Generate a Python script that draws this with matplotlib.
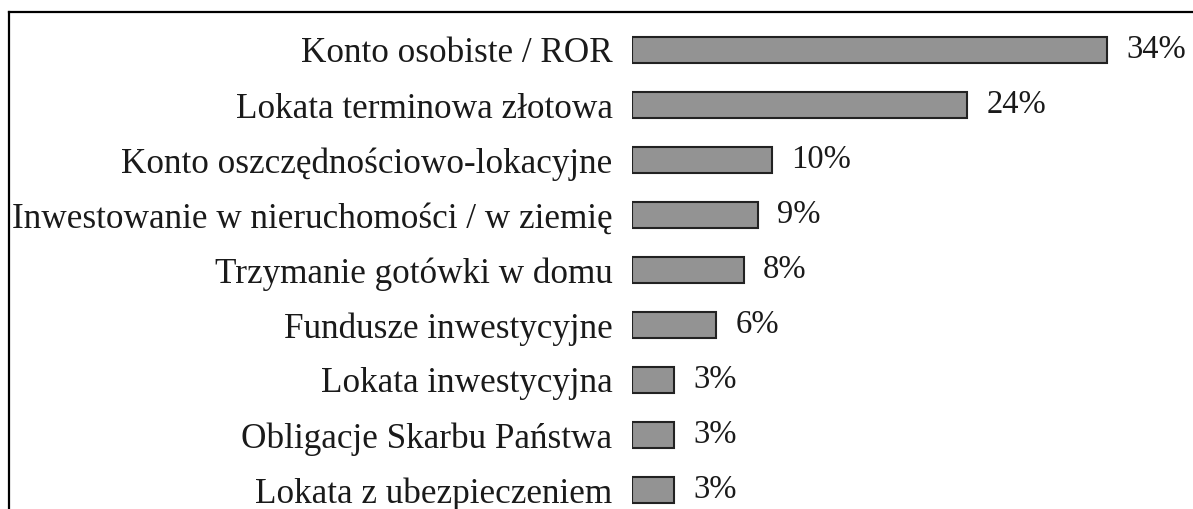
import matplotlib
matplotlib.use("Agg")
import matplotlib.pyplot as plt
from matplotlib.lines import Line2D

categories = [
    "Konto osobiste / ROR",
    "Lokata terminowa złotowa",
    "Konto oszczędnościowo-lokacyjne",
    "Inwestowanie w nieruchomości / w ziemię",
    "Trzymanie gotówki w domu",
    "Fundusze inwestycyjne",
    "Lokata inwestycyjna",
    "Obligacje Skarbu Państwa",
    "Lokata z ubezpieczeniem",
]
values = [34, 24, 10, 9, 8, 6, 3, 3, 3]
value_labels = ["34%", "24%", "10%", "9%", "8%", "6%", "3%", "3%", "3%"]

W, H = 1193, 509
fig = plt.figure(figsize=(W / 100, H / 100), dpi=100)
plt.rcParams['font.family'] = ['Liberation Serif', 'DejaVu Serif']

ax_left = 632 / W
ax = fig.add_axes([ax_left, 0, 1 - ax_left, (H - 12) / H])
ypos = list(range(len(categories)))
ax.barh(ypos, values, height=0.47, color="#939393", edgecolor="#222222", linewidth=1.5)
ax.set_xlim(0, (W - 632) / 13.97)
ax.set_ylim((H - 50) / 55, (12 - 50) / 55)
ax.set_yticks(ypos)
ax.set_yticklabels(categories, fontsize=25.3, color="#1a1a1a")
ax.tick_params(axis='y', length=0, pad=14)
ax.set_xticks([])
for s in ax.spines.values():
    s.set_visible(False)
for y, v, lab in zip(ypos, values, value_labels):
    ax.annotate(lab, (v, y), xytext=(14, 0), textcoords="offset points",
                va="center", ha="left", fontsize=23.5, color="#1a1a1a")

fig.add_artist(Line2D([9 / W, 1], [1 - 12 / H, 1 - 12 / H], color="black", lw=1.6, transform=fig.transFigure))
fig.add_artist(Line2D([9 / W, 9 / W], [0, 1 - 12 / H], color="black", lw=1.6, transform=fig.transFigure))

fig.savefig("out.png", dpi=100, facecolor="white")
